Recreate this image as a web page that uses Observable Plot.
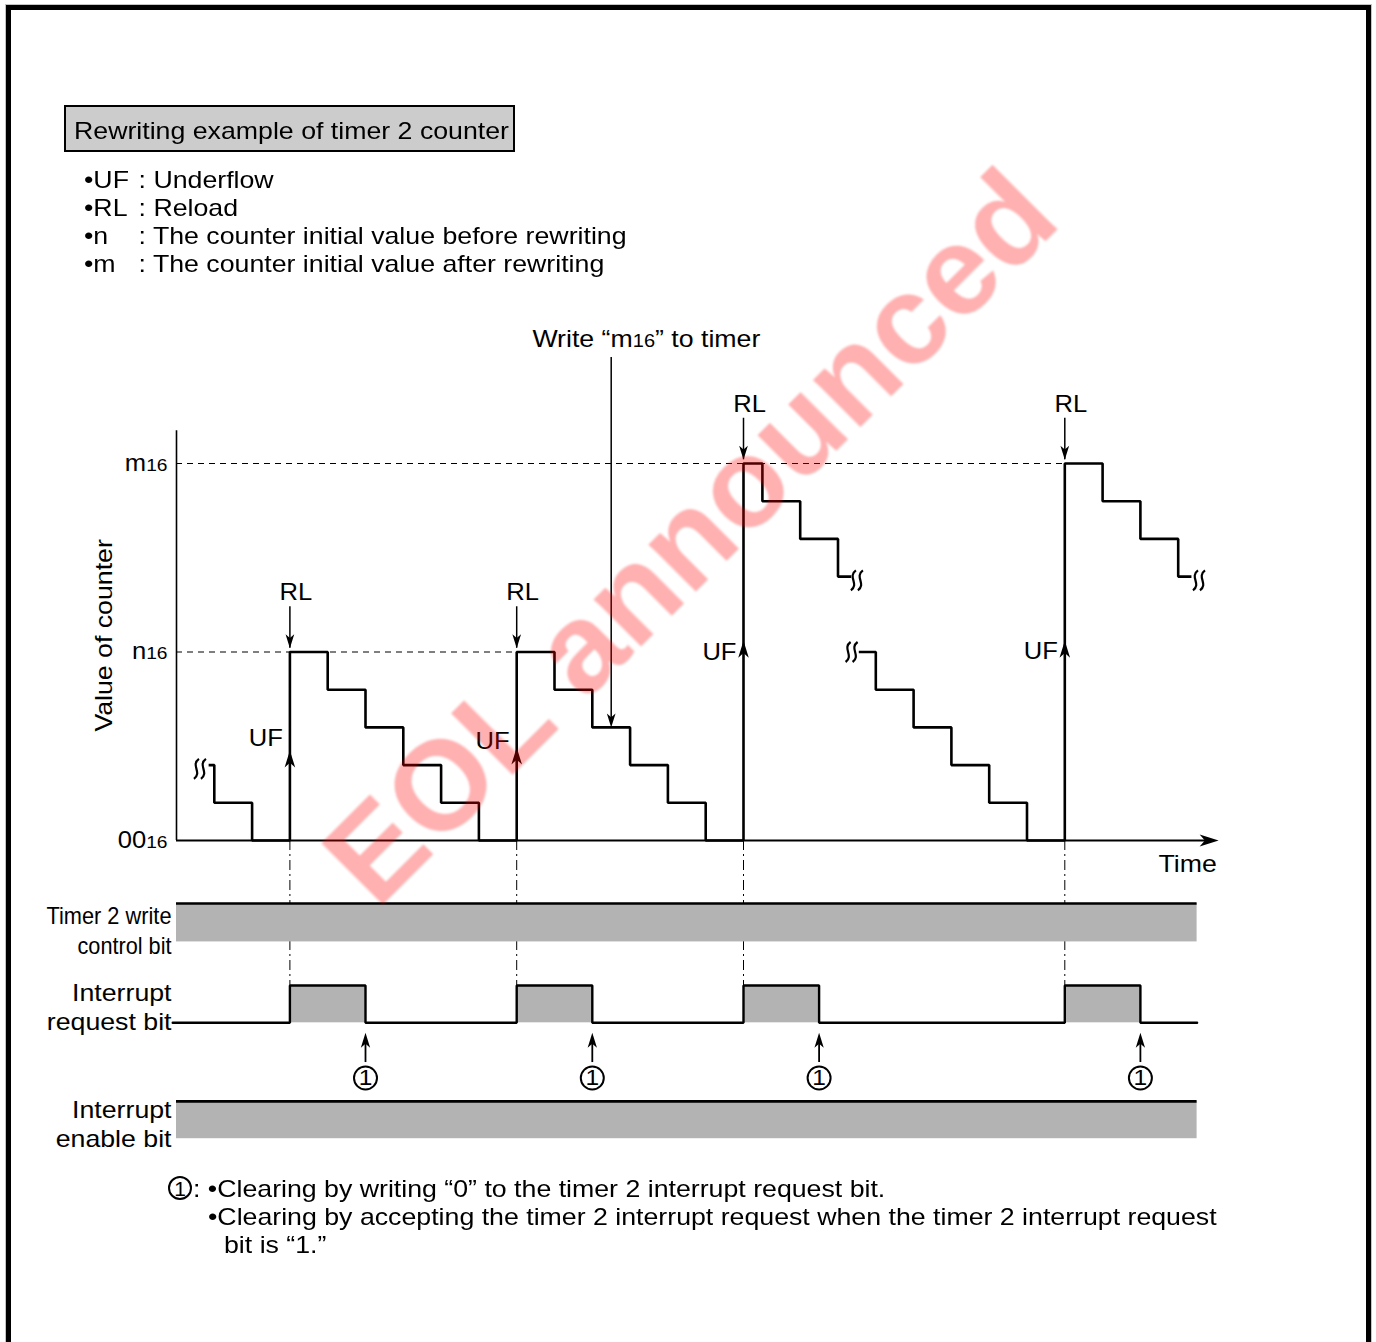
<!DOCTYPE html>
<html>
<head>
<meta charset="utf-8">
<script src="https://cdn.jsdelivr.net/npm/d3@7"></script>
<script src="https://cdn.jsdelivr.net/npm/@observablehq/plot@0.6"></script>
<style>
html,body{margin:0;padding:0;background:#fff}
body{font-family:"Liberation Sans",Arial,Helvetica,sans-serif;color:#000}
#page{position:relative;width:1376px;height:1342px;overflow:hidden;background:#fff}
#frame{position:absolute;left:6px;top:5px;width:1355px;height:1500px;border:5px solid #000;box-shadow:0 0 0 1px #c4c4c4}
#title{position:absolute;left:64px;top:105px;width:439px;height:43px;padding-left:8px;border:2px solid #000;background:#cccccc;font-size:24px;line-height:47px;white-space:nowrap;overflow:visible}
.wide{display:inline-block;transform:scaleX(1.113);transform-origin:0 50%}
.legend{position:absolute;left:84px;font-size:24px;line-height:28px;white-space:nowrap}
.legend .k{display:inline-block;width:49px}
#chart{position:absolute;left:0;top:290px}
.note{position:absolute;font-size:24px;line-height:28px;white-space:nowrap}
.c1{position:absolute;left:168px;top:1176px;width:20px;height:20px;border:2px solid #000;border-radius:50%;font-size:21px;line-height:21px;text-align:center}
</style>
</head>
<body>
<div id="page">
  <div id="frame"></div>
  <div id="title"><span class="wide">Rewriting example of timer 2 counter</span></div>
  <div id="legend"></div>
  <div id="chart"></div>
  <div class="c1">1</div>
  <div class="note" style="left:193px;top:1175px"><span class="wide">: •Clearing by writing “0” to the timer 2 interrupt request bit.</span></div>
  <div class="note" style="left:208px;top:1203px"><span class="wide">•Clearing by accepting the timer 2 interrupt request when the timer 2 interrupt request</span></div>
  <div class="note" style="left:224px;top:1231px"><span class="wide">bit is “1.”</span></div>
</div>
<script>
// ---------------- data ----------------
const legendKeys  = ["•UF", "•RL", "•n", "•m"];
const legendTexts = [": Underflow", ": Reload", ": The counter initial value before rewriting", ": The counter initial value after rewriting"];

// counter value (in count steps) : n = 5, m = 10
const yTicks      = [0, 5, 10];
const yTickLabels = ["00_16", "n_16", "m_16"];

// counter staircase, segment 1 (before the break) and segment 2 (after the break)
const seg1Time  = [0.85, 1, 2, 3, 4, 5, 6, 7, 8, 9, 10, 11, 12, 13, 14, 15, 15.5, 16.5, 17.5, 17.85];
const seg1Value = [2,    1, 0, 5, 4, 3, 2, 1, 0, 5, 4,  3,  2,  1,  0,  10, 9,    8,    7,    7];
const seg2Time  = [18.05, 18.5, 19.5, 20.5, 21.5, 22.5, 23.5, 24.5, 25.5, 26.5, 26.85];
const seg2Value = [5,     4,    3,    2,    1,    0,    10,   9,    8,    7,    7];

// break marks
const breakTime  = [0.62, 18.0, 17.86, 27.05];
const breakValue = [1.9,  6.9,  5,     6.9];

// underflow / reload events
const ufTime      = [3, 9, 15, 23.5];
const reloadValue = [5, 5, 10, 10];
const ufTipValue  = [2.39, 2.47, 5.3, 5.3];
const ufLabelVal  = [2.7, 2.62, 4.98, 5.02];

// write "m16" to timer
const writeTime = [11.5];
const writeFrom = [12.81];
const writeTo   = [3.0];

// timing rows
const rowLabels   = ["Timer 2 write", "control bit", "Interrupt", "request bit", "Interrupt", "enable bit"];
const rowLabelVal = [-2.02, -2.81, -4.06, -4.83, -7.16, -7.92];
const writeCtlTop = -1.67, writeCtlBottom = -2.69;
const enableTop   = -6.92, enableBottom   = -7.91;
const irqHigh = -3.846, irqLow = -4.836;
const irqTime = [-0.1, 3, 5, 9, 11, 15, 17, 23.5, 25.5, 27];
const irqBit  = [0,    1, 0, 1, 0,  1,  0,  1,    0,    0];
const clearArrowFrom = -5.89, clearArrowTo = -5.1, clearMarkVal = -6.3;
const timeEnd = 27;

// ---------------- derived tables ----------------
document.getElementById("legend").innerHTML = legendKeys.map((k, i) =>
  `<div class="legend" style="top:${166 + 28 * i}px"><span class="wide"><span class="k">${k}</span>${legendTexts[i]}</span></div>`).join("");

const counter = [
  ...seg1Time.map((t, i) => ({t, v: seg1Value[i], seg: 1})),
  ...seg2Time.map((t, i) => ({t, v: seg2Value[i], seg: 2}))
];
const breaks = breakTime.map((t, i) => ({t, v: breakValue[i]}));
const events = ufTime.map((t, i) => ({t, v: reloadValue[i], tip: ufTipValue[i], lab: ufLabelVal[i]}));
const irq = irqTime.map((t, i) => ({t, v: irqBit[i] ? irqHigh : irqLow}));
const pulses = [];
for (let i = 0; i < irqTime.length - 1; i++) if (irqBit[i]) pulses.push({x1: irqTime[i], x2: irqTime[i + 1]});
const clears = pulses.map(p => ({t: p.x2}));
const labels = rowLabels.map((s, i) => ({s, v: rowLabelVal[i]}));

// custom symbols
const arrowHead = {
  draw(ctx, size) {
    const r = Math.sqrt(size / Math.PI);
    const L = 2 * r, W = 0.62 * r, N = 0.55 * r;
    ctx.moveTo(0, 0); ctx.lineTo(W, L); ctx.lineTo(0, L - N); ctx.lineTo(-W, L); ctx.closePath();
  }
};
const squiggle = {
  draw(ctx, size) {
    const k = Math.sqrt(size / Math.PI) / 8;
    for (const ox of [-2.8, 2.8]) {
      ctx.moveTo((ox + 2) * k, -8 * k);
      ctx.bezierCurveTo((ox - 5) * k, -3 * k, (ox + 5) * k, 3 * k, (ox - 2) * k, 8 * k);
    }
  }
};

const F = "Liberation Sans, Arial, sans-serif";

const chart = Plot.plot({
  width: 1376, height: 880,
  marginLeft: 176, marginRight: 179.4, marginTop: 173, marginBottom: 330,
  x: {domain: [0, timeEnd], axis: null},
  y: {domain: [0, 10]},
  style: {fontFamily: F, fontSize: "23px", overflow: "visible", background: "transparent", color: "#000"},
  marks: [
    // dashed level lines
    Plot.ruleY([{v: 10, x2: ufTime[3]}, {v: 5, x2: ufTime[1]}], {y: "v", x1: 0, x2: "x2", stroke: "#000", strokeWidth: 1.1, strokeDasharray: "6,5"}),
    // dash-dot event lines
    Plot.ruleX(ufTime, {x: d => d, y1: 0, y2: irqHigh, stroke: "#000", strokeWidth: 1, strokeDasharray: "10,4,2,4"}),
    // axes
    Plot.ruleX([0], {y1: 0, y2: 10.87, stroke: "#000", strokeWidth: 1.6}),
    Plot.ruleY([0], {x1: 0, x2: 27.3, stroke: "#000", strokeWidth: 2}),
    Plot.dot([{t: 27.57, v: 0}], {x: "t", y: "v", symbol: arrowHead, r: 9.5, rotate: 90, fill: "#000", stroke: "none"}),
    Plot.axisY({ticks: yTicks, tickFormat: d => yTickLabels[yTicks.indexOf(d)], tickSize: 0, tickPadding: 9, fontSize: 23}),
    Plot.text(["Value of counter"], {x: -1.905, y: 5.44, text: d => d, rotate: -90, fontSize: 24}),
    Plot.text(["Time"], {x: 26.75, y: -0.64, text: d => d, fontSize: 24}),
    // counter
    Plot.line(counter, {x: "t", y: "v", z: "seg", curve: "step-after", stroke: "#000", strokeWidth: 2.6, strokeLinejoin: "miter", strokeLinecap: "butt"}),
    Plot.dot(breaks, {x: "t", y: "v", symbol: squiggle, r: 10, fill: "none", stroke: "#000", strokeWidth: 2.2}),
    // UF arrows
    Plot.dot(events, {x: "t", y: "tip", symbol: arrowHead, r: 8.5, fill: "#000", stroke: "none"}),
    Plot.text(events, {x: "t", y: "lab", text: () => "UF", textAnchor: "end", dx: -7, fontSize: 23}),
    // RL arrows
    Plot.ruleX(events, {x: "t", y1: d => d.v + 1.2, y2: d => d.v + 0.1, stroke: "#000", strokeWidth: 1.5}),
    Plot.dot(events, {x: "t", y: d => d.v + 0.1, symbol: arrowHead, r: 7, rotate: 180, fill: "#000", stroke: "none"}),
    Plot.text(events, {x: "t", y: d => d.v + 1.57, text: () => "RL", dx: 6, fontSize: 23}),
    // write m16
    Plot.ruleX(writeTime, {x: d => d, y1: (d, i) => writeFrom[i], y2: (d, i) => writeTo[i] + 0.2, stroke: "#000", strokeWidth: 1.5}),
    Plot.dot(writeTime, {x: d => d, y: (d, i) => writeTo[i], symbol: arrowHead, r: 7, rotate: 180, fill: "#000", stroke: "none"}),
    Plot.text(["Write “m_16” to timer"], {x: 12.43, y: 13.29, text: d => d, fontSize: 24}),
    // timing rows
    Plot.rect([{x1: 0, x2: timeEnd, y1: writeCtlBottom, y2: writeCtlTop}, {x1: 0, x2: timeEnd, y1: enableBottom, y2: enableTop}],
      {x1: "x1", x2: "x2", y1: "y1", y2: "y2", fill: "#b3b3b3", inset: 0}),
    Plot.ruleY([writeCtlTop, enableTop], {y: d => d, x1: 0, x2: timeEnd, stroke: "#000", strokeWidth: 2.6}),
    Plot.rect(pulses, {x1: "x1", x2: "x2", y1: irqLow, y2: irqHigh, fill: "#b3b3b3", inset: 0}),
    Plot.line(irq, {x: "t", y: "v", curve: "step-after", stroke: "#000", strokeWidth: 2.4, strokeLinejoin: "miter"}),
    Plot.ruleX(clears, {x: "t", y1: clearArrowFrom, y2: clearArrowTo - 0.25, stroke: "#000", strokeWidth: 1.8}),
    Plot.dot(clears, {x: "t", y: clearArrowTo, symbol: arrowHead, r: 7.5, fill: "#000", stroke: "none"}),
    Plot.dot(clears, {x: "t", y: clearMarkVal, r: 11.5, fill: "#fff", stroke: "#000", strokeWidth: 2}),
    Plot.text(clears, {x: "t", y: clearMarkVal, text: () => "1", fontSize: 22}),
    Plot.text(labels, {x: 0, y: "v", text: "s", textAnchor: "end", dx: -5, fontSize: 24}),
    // watermark
    Plot.text(["EOL announced"], {x: 13.62, y: 8.02, text: d => d, rotate: -45, fontSize: 127, fontWeight: "bold", fill: "#ff0000", fillOpacity: 0.31, fontFamily: F})
  ]
});

// subscripts ("_16") as smaller tspans
chart.querySelectorAll("text, tspan").forEach(el => {
  if (el.childNodes.length !== 1 || el.firstChild.nodeType !== 3) return;
  const s = el.textContent;
  if (!/_\d/.test(s)) return;
  el.textContent = "";
  s.split(/(_\d+)/).forEach(part => {
    if (!part) return;
    const ts = document.createElementNS("http://www.w3.org/2000/svg", "tspan");
    if (part.startsWith("_")) { ts.textContent = part.slice(1); ts.setAttribute("font-size", "0.75em"); }
    else ts.textContent = part;
    el.appendChild(ts);
  });
});
// condensed lettering for the "Timer 2 write control bit" label, slightly wide lettering elsewhere
const narrowWidths = {"Timer 2 write": 125, "control bit": 94};
chart.querySelectorAll("text").forEach(el => {
  const s = el.textContent;
  const w = narrowWidths[s];
  if (w) { el.setAttribute("textLength", w); el.setAttribute("lengthAdjust", "spacingAndGlyphs"); return; }
  if (s === "EOL announced") {
    el.setAttribute("filter", "url(#wmblur)");
    return;
  }
  const tr = el.getAttribute("transform");
  if (tr) el.setAttribute("transform", tr + " scale(1.113,1)");
});
const defs = document.createElementNS("http://www.w3.org/2000/svg", "defs");
defs.innerHTML = '<filter id="wmblur" x="-10%" y="-10%" width="120%" height="120%"><feGaussianBlur stdDeviation="1.3"/></filter>';
chart.insertBefore(defs, chart.firstChild);
document.getElementById("chart").appendChild(chart);
</script>
</body>
</html>
